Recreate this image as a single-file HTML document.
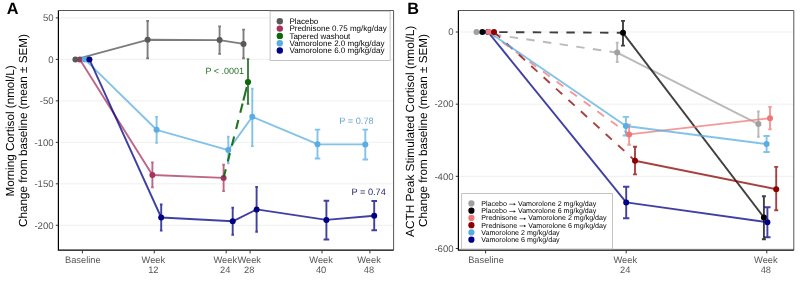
<!DOCTYPE html>
<html><head><meta charset="utf-8"><style>
html,body{margin:0;padding:0;background:#fff;width:800px;height:286px;overflow:hidden}
svg{display:block;font-family:"Liberation Sans", sans-serif;will-change:transform;text-rendering:geometricPrecision}
</style></head><body>
<svg width="800" height="286" viewBox="0 0 800 286">
<rect width="800" height="286" fill="#fff"/>
<line x1="58.4" y1="17.900000000000006" x2="393.6" y2="17.900000000000006" stroke="#ebebeb" stroke-width="0.8"/>
<line x1="58.4" y1="59.38" x2="393.6" y2="59.38" stroke="#ebebeb" stroke-width="0.8"/>
<line x1="58.4" y1="100.86" x2="393.6" y2="100.86" stroke="#ebebeb" stroke-width="0.8"/>
<line x1="58.4" y1="142.34" x2="393.6" y2="142.34" stroke="#ebebeb" stroke-width="0.8"/>
<line x1="58.4" y1="183.82" x2="393.6" y2="183.82" stroke="#ebebeb" stroke-width="0.8"/>
<line x1="58.4" y1="225.29999999999998" x2="393.6" y2="225.29999999999998" stroke="#ebebeb" stroke-width="0.8"/>
<path d="M58.4,10.5H393.6V250.2" stroke="#555" stroke-width="1" fill="none"/>
<polyline points="79.9,59.4 152.4,175 223.6,177.9" fill="none" stroke="#a8325f" stroke-width="1.9" stroke-linejoin="round" stroke-opacity="0.75"/>
<path d="M152.4,162.4V187.3M151.1,162.4H153.70000000000002M151.1,187.3H153.70000000000002" stroke="#a8325f" stroke-width="1.9" fill="none" stroke-opacity="0.75"/>
<path d="M223.6,164.7V191.1M222.29999999999998,164.7H224.9M222.29999999999998,191.1H224.9" stroke="#a8325f" stroke-width="1.9" fill="none" stroke-opacity="0.75"/>
<circle cx="79.9" cy="59.4" r="3.0" fill="#a8325f"/>
<circle cx="152.4" cy="175" r="3.0" fill="#a8325f"/>
<circle cx="223.6" cy="177.9" r="3.0" fill="#a8325f"/>
<polyline points="75.4,59.4 147.6,39.8 219.6,40.1 243.5,43.9" fill="none" stroke="#595959" stroke-width="1.9" stroke-linejoin="round" stroke-opacity="0.78"/>
<path d="M147.6,21.0V58.3M146.2,21.0H149.0M146.2,58.3H149.0" stroke="#595959" stroke-width="1.9" fill="none" stroke-opacity="0.78"/>
<path d="M219.6,26.4V53.9M218.2,26.4H221.0M218.2,53.9H221.0" stroke="#595959" stroke-width="1.9" fill="none" stroke-opacity="0.78"/>
<path d="M243.5,29.6V58.3M242.1,29.6H244.9M242.1,58.3H244.9" stroke="#595959" stroke-width="1.9" fill="none" stroke-opacity="0.78"/>
<circle cx="75.4" cy="59.4" r="3.0" fill="#595959"/>
<circle cx="147.6" cy="39.8" r="3.0" fill="#595959"/>
<circle cx="219.6" cy="40.1" r="3.0" fill="#595959"/>
<circle cx="243.5" cy="43.9" r="3.0" fill="#595959"/>
<polyline points="84.8,59.4 156.6,129.8 228.3,150.1 252.3,116.8 317.5,144.2 365.3,144.4" fill="none" stroke="#5aade2" stroke-width="1.9" stroke-linejoin="round" stroke-opacity="0.75"/>
<path d="M156.6,117V142.9M155.29999999999998,117H157.9M155.29999999999998,142.9H157.9" stroke="#5aade2" stroke-width="1.9" fill="none" stroke-opacity="0.75"/>
<path d="M228.3,136.7V163.3M227.0,136.7H229.60000000000002M227.0,163.3H229.60000000000002" stroke="#5aade2" stroke-width="1.9" fill="none" stroke-opacity="0.75"/>
<path d="M252.3,88.6V146.1M251.0,88.6H253.60000000000002M251.0,146.1H253.60000000000002" stroke="#5aade2" stroke-width="1.9" fill="none" stroke-opacity="0.75"/>
<path d="M317.5,129.6V158.5M314.7,129.6H320.3M314.7,158.5H320.3" stroke="#5aade2" stroke-width="1.9" fill="none" stroke-opacity="0.75"/>
<path d="M365.3,129.6V159.5M362.5,129.6H368.1M362.5,159.5H368.1" stroke="#5aade2" stroke-width="1.9" fill="none" stroke-opacity="0.75"/>
<circle cx="84.8" cy="59.4" r="3.0" fill="#5aade2"/>
<circle cx="156.6" cy="129.8" r="3.0" fill="#5aade2"/>
<circle cx="228.3" cy="150.1" r="3.0" fill="#5aade2"/>
<circle cx="252.3" cy="116.8" r="3.0" fill="#5aade2"/>
<circle cx="317.5" cy="144.2" r="3.0" fill="#5aade2"/>
<circle cx="365.3" cy="144.4" r="3.0" fill="#5aade2"/>
<polyline points="89.4,59.4 161.2,217.5 232.7,221.3 256.6,209.4 326.4,219.9 374.2,215.7" fill="none" stroke="#000085" stroke-width="1.9" stroke-linejoin="round" stroke-opacity="0.75"/>
<path d="M161.2,204.5V230.6M159.89999999999998,204.5H162.5M159.89999999999998,230.6H162.5" stroke="#000085" stroke-width="1.9" fill="none" stroke-opacity="0.75"/>
<path d="M232.7,207.8V234.8M231.39999999999998,207.8H234.0M231.39999999999998,234.8H234.0" stroke="#000085" stroke-width="1.9" fill="none" stroke-opacity="0.75"/>
<path d="M256.6,187V231.7M255.3,187H257.90000000000003M255.3,231.7H257.90000000000003" stroke="#000085" stroke-width="1.9" fill="none" stroke-opacity="0.75"/>
<path d="M326.4,200.8V239.5M323.59999999999997,200.8H329.2M323.59999999999997,239.5H329.2" stroke="#000085" stroke-width="1.9" fill="none" stroke-opacity="0.75"/>
<path d="M374.2,201V230.2M371.4,201H377.0M371.4,230.2H377.0" stroke="#000085" stroke-width="1.9" fill="none" stroke-opacity="0.75"/>
<circle cx="89.4" cy="59.4" r="3.0" fill="#000085"/>
<circle cx="161.2" cy="217.5" r="3.0" fill="#000085"/>
<circle cx="232.7" cy="221.3" r="3.0" fill="#000085"/>
<circle cx="256.6" cy="209.4" r="3.0" fill="#000085"/>
<circle cx="326.4" cy="219.9" r="3.0" fill="#000085"/>
<circle cx="374.2" cy="215.7" r="3.0" fill="#000085"/>
<line x1="223.6" y1="177.9" x2="248" y2="82.3" stroke="#0a6a0a" stroke-width="2.1" stroke-opacity="0.92" stroke-dasharray="0,0.4,8.5,8.0,8.8,7.7,9.3,7.8,9.3,7.5,9.6,3.0,14,100" stroke-dashoffset="0"/>
<path d="M248,59.1V103.9M246.75,59.1H249.25M246.75,103.9H249.25" stroke="#3f7c3f" stroke-width="1.9" fill="none"/>
<circle cx="248" cy="82.0" r="3.1" fill="#0a6a0a"/>
<path d="M58.4,10.5V250.2H393.6" stroke="#000" stroke-width="1.2" fill="none"/>
<line x1="55.8" y1="17.900000000000006" x2="58.4" y2="17.900000000000006" stroke="#333" stroke-width="1.0"/>
<text x="53.6" y="21.100000000000005" font-size="9.6" fill="#555" text-anchor="end" font-weight="normal">50</text>
<line x1="55.8" y1="59.38" x2="58.4" y2="59.38" stroke="#333" stroke-width="1.0"/>
<text x="53.6" y="62.580000000000005" font-size="9.6" fill="#555" text-anchor="end" font-weight="normal">0</text>
<line x1="55.8" y1="100.86" x2="58.4" y2="100.86" stroke="#333" stroke-width="1.0"/>
<text x="53.6" y="104.06" font-size="9.6" fill="#555" text-anchor="end" font-weight="normal">-50</text>
<line x1="55.8" y1="142.34" x2="58.4" y2="142.34" stroke="#333" stroke-width="1.0"/>
<text x="53.6" y="145.54" font-size="9.6" fill="#555" text-anchor="end" font-weight="normal">-100</text>
<line x1="55.8" y1="183.82" x2="58.4" y2="183.82" stroke="#333" stroke-width="1.0"/>
<text x="53.6" y="187.01999999999998" font-size="9.6" fill="#555" text-anchor="end" font-weight="normal">-150</text>
<line x1="55.8" y1="225.29999999999998" x2="58.4" y2="225.29999999999998" stroke="#333" stroke-width="1.0"/>
<text x="53.6" y="228.49999999999997" font-size="9.6" fill="#555" text-anchor="end" font-weight="normal">-200</text>
<line x1="82.4" y1="250.2" x2="82.4" y2="253.39999999999998" stroke="#333" stroke-width="1.0"/>
<text x="82.80000000000001" y="262.5" font-size="9.3" fill="#555" text-anchor="middle" font-weight="normal">Baseline</text>
<line x1="154.28" y1="250.2" x2="154.28" y2="253.39999999999998" stroke="#333" stroke-width="1.0"/>
<text x="153.38" y="262.5" font-size="9.3" fill="#555" text-anchor="middle" font-weight="normal">Week</text>
<text x="153.38" y="272.8" font-size="9.3" fill="#555" text-anchor="middle" font-weight="normal">12</text>
<line x1="226.16" y1="250.2" x2="226.16" y2="253.39999999999998" stroke="#333" stroke-width="1.0"/>
<text x="225.26" y="262.5" font-size="9.3" fill="#555" text-anchor="middle" font-weight="normal">Week</text>
<text x="225.26" y="272.8" font-size="9.3" fill="#555" text-anchor="middle" font-weight="normal">24</text>
<line x1="250.12" y1="250.2" x2="250.12" y2="253.39999999999998" stroke="#333" stroke-width="1.0"/>
<text x="249.22" y="262.5" font-size="9.3" fill="#555" text-anchor="middle" font-weight="normal">Week</text>
<text x="249.22" y="272.8" font-size="9.3" fill="#555" text-anchor="middle" font-weight="normal">28</text>
<line x1="322.0" y1="250.2" x2="322.0" y2="253.39999999999998" stroke="#333" stroke-width="1.0"/>
<text x="321.1" y="262.5" font-size="9.3" fill="#555" text-anchor="middle" font-weight="normal">Week</text>
<text x="321.1" y="272.8" font-size="9.3" fill="#555" text-anchor="middle" font-weight="normal">40</text>
<line x1="369.91999999999996" y1="250.2" x2="369.91999999999996" y2="253.39999999999998" stroke="#333" stroke-width="1.0"/>
<text x="369.02" y="262.5" font-size="9.3" fill="#555" text-anchor="middle" font-weight="normal">Week</text>
<text x="369.02" y="272.8" font-size="9.3" fill="#555" text-anchor="middle" font-weight="normal">48</text>
<g transform="translate(13.5,130.5) rotate(-90)"><text x="-0.5" y="0" font-size="11.7" text-anchor="middle">Morning Cortisol (nmol/L)</text><text x="0" y="13" font-size="11.7" text-anchor="middle">Change from baseline (mean ± SEM)</text></g>
<text x="6.8" y="14.4" font-size="16.3" fill="#000" text-anchor="start" font-weight="bold">A</text>
<text x="205.5" y="74" font-size="9" fill="#276e27" text-anchor="start" font-weight="normal">P &lt; .0001</text>
<text x="339.3" y="123.6" font-size="9.2" fill="#6aa5cf" text-anchor="start" font-weight="normal">P = 0.78</text>
<text x="351.5" y="194.5" font-size="9.2" fill="#24246a" text-anchor="start" font-weight="normal">P = 0.74</text>
<rect x="270.1" y="11.2" width="120.0" height="49.2" fill="#fff" stroke="#b4b4b4" stroke-width="0.8"/>
<circle cx="279.8" cy="21.3" r="3.2" fill="#595959"/>
<text x="289.4" y="24.1" font-size="8" fill="#000" text-anchor="start" font-weight="normal">Placebo</text>
<circle cx="279.8" cy="28.6" r="3.2" fill="#a8325f"/>
<text x="289.4" y="31.400000000000002" font-size="8" fill="#000" text-anchor="start" font-weight="normal">Prednisone 0.75 mg/kg/day</text>
<circle cx="279.8" cy="35.9" r="3.2" fill="#0a6a0a"/>
<text x="289.4" y="38.699999999999996" font-size="8" fill="#000" text-anchor="start" font-weight="normal">Tapered washout</text>
<circle cx="279.8" cy="43.2" r="3.2" fill="#5aade2"/>
<text x="289.4" y="46.0" font-size="8" fill="#000" text-anchor="start" font-weight="normal">Vamorolone 2.0 mg/kg/day</text>
<circle cx="279.8" cy="50.5" r="3.2" fill="#000085"/>
<text x="289.4" y="53.3" font-size="8" fill="#000" text-anchor="start" font-weight="normal">Vamorolone 6.0 mg/kg/day</text>
<line x1="458.4" y1="32.0" x2="793.8" y2="32.0" stroke="#ebebeb" stroke-width="0.8"/>
<line x1="458.4" y1="104.16" x2="793.8" y2="104.16" stroke="#ebebeb" stroke-width="0.8"/>
<line x1="458.4" y1="176.32" x2="793.8" y2="176.32" stroke="#ebebeb" stroke-width="0.8"/>
<line x1="458.4" y1="248.48000000000002" x2="793.8" y2="248.48000000000002" stroke="#ebebeb" stroke-width="0.8"/>
<path d="M458.4,10.5H793.8V250.2" stroke="#555" stroke-width="1" fill="none"/>
<line x1="476.5" y1="32" x2="617.2" y2="52.6" stroke="#a0a0a0" stroke-width="1.9" stroke-opacity="0.72" stroke-dasharray="8.4,8.4" stroke-dashoffset="0"/>
<line x1="617.2" y1="52.6" x2="758.4" y2="124.1" stroke="#a0a0a0" stroke-width="1.9" stroke-opacity="0.72"/>
<path d="M617.2,42.7V62M615.8000000000001,42.7H618.6M615.8000000000001,62H618.6" stroke="#a0a0a0" stroke-width="1.9" fill="none" stroke-opacity="0.72"/>
<path d="M758.4,111.5V136.7M757.0,111.5H759.8M757.0,136.7H759.8" stroke="#a0a0a0" stroke-width="1.9" fill="none" stroke-opacity="0.72"/>
<line x1="482.4" y1="32" x2="623" y2="32.8" stroke="#000000" stroke-width="1.9" stroke-opacity="0.75" stroke-dasharray="8.4,8.4" stroke-dashoffset="0"/>
<line x1="623" y1="32.8" x2="763.9" y2="217.5" stroke="#000000" stroke-width="1.9" stroke-opacity="0.75"/>
<path d="M623,20.9V45.6M621.0,20.9H625.0M621.0,45.6H625.0" stroke="#000000" stroke-width="1.9" fill="none" stroke-opacity="0.75"/>
<path d="M763.9,196.2V239.2M761.9,196.2H765.9M761.9,239.2H765.9" stroke="#000000" stroke-width="1.9" fill="none" stroke-opacity="0.75"/>
<line x1="488.7" y1="32" x2="629.1" y2="134.4" stroke="#f07575" stroke-width="1.9" stroke-opacity="0.75" stroke-dasharray="8.4,8.4" stroke-dashoffset="0"/>
<line x1="629.1" y1="134.4" x2="770" y2="118.2" stroke="#f07575" stroke-width="1.9" stroke-opacity="0.75"/>
<path d="M629.1,124.6V144.8M627.35,124.6H630.85M627.35,144.8H630.85" stroke="#f07575" stroke-width="1.9" fill="none" stroke-opacity="0.75"/>
<path d="M770,106.9V129.4M768.25,106.9H771.75M768.25,129.4H771.75" stroke="#f07575" stroke-width="1.9" fill="none" stroke-opacity="0.75"/>
<line x1="494" y1="32" x2="635" y2="160.7" stroke="#8b0000" stroke-width="1.9" stroke-opacity="0.75" stroke-dasharray="8.4,8.4" stroke-dashoffset="0"/>
<line x1="635" y1="160.7" x2="776.2" y2="189.2" stroke="#8b0000" stroke-width="1.9" stroke-opacity="0.75"/>
<path d="M635,146.8V174.4M633.0,146.8H637.0M633.0,174.4H637.0" stroke="#8b0000" stroke-width="1.9" fill="none" stroke-opacity="0.75"/>
<path d="M776.2,166.9V210.3M774.2,166.9H778.2M774.2,210.3H778.2" stroke="#8b0000" stroke-width="1.9" fill="none" stroke-opacity="0.75"/>
<line x1="488.7" y1="32" x2="625.9" y2="126" stroke="#5aade2" stroke-width="1.9" stroke-opacity="0.75"/>
<line x1="625.9" y1="126" x2="766.6" y2="144" stroke="#5aade2" stroke-width="1.9" stroke-opacity="0.75"/>
<path d="M625.9,116.9V135.5M622.75,116.9H629.05M622.75,135.5H629.05" stroke="#5aade2" stroke-width="1.9" fill="none" stroke-opacity="0.75"/>
<path d="M766.6,136V152M763.45,136H769.75M763.45,152H769.75" stroke="#5aade2" stroke-width="1.9" fill="none" stroke-opacity="0.75"/>
<line x1="488" y1="32" x2="626.2" y2="202.4" stroke="#000085" stroke-width="1.9" stroke-opacity="0.75"/>
<line x1="626.2" y1="202.4" x2="767.4" y2="222.3" stroke="#000085" stroke-width="1.9" stroke-opacity="0.75"/>
<path d="M626.2,186.8V218.3M623.0500000000001,186.8H629.35M623.0500000000001,218.3H629.35" stroke="#000085" stroke-width="1.9" fill="none" stroke-opacity="0.75"/>
<path d="M767.4,207.2V237.2M764.25,207.2H770.55M764.25,237.2H770.55" stroke="#000085" stroke-width="1.9" fill="none" stroke-opacity="0.75"/>
<circle cx="488.7" cy="32" r="3.0" fill="#5aade2"/>
<circle cx="488" cy="32" r="3.0" fill="#000085"/>
<circle cx="476.5" cy="32" r="3.0" fill="#a0a0a0"/>
<circle cx="482.4" cy="32" r="3.0" fill="#000000"/>
<circle cx="488.7" cy="32" r="3.0" fill="#f07575"/>
<circle cx="494" cy="32" r="3.0" fill="#8b0000"/>
<circle cx="617.2" cy="52.6" r="3.0" fill="#a0a0a0"/>
<circle cx="758.4" cy="124.1" r="3.0" fill="#a0a0a0"/>
<circle cx="623" cy="32.8" r="3.0" fill="#000000"/>
<circle cx="763.9" cy="217.5" r="3.0" fill="#000000"/>
<circle cx="629.1" cy="134.4" r="3.0" fill="#f07575"/>
<circle cx="770" cy="118.2" r="3.0" fill="#f07575"/>
<circle cx="635" cy="160.7" r="3.0" fill="#8b0000"/>
<circle cx="776.2" cy="189.2" r="3.0" fill="#8b0000"/>
<circle cx="625.9" cy="126" r="3.0" fill="#5aade2"/>
<circle cx="766.6" cy="144" r="3.0" fill="#5aade2"/>
<circle cx="626.2" cy="202.4" r="3.0" fill="#000085"/>
<circle cx="767.4" cy="222.3" r="3.0" fill="#000085"/>
<path d="M458.4,10.5V250.2H793.8" stroke="#000" stroke-width="1.2" fill="none"/>
<line x1="455.79999999999995" y1="32.0" x2="458.4" y2="32.0" stroke="#333" stroke-width="1.0"/>
<text x="453.59999999999997" y="35.2" font-size="9.6" fill="#555" text-anchor="end" font-weight="normal">0</text>
<line x1="455.79999999999995" y1="104.16" x2="458.4" y2="104.16" stroke="#333" stroke-width="1.0"/>
<text x="453.59999999999997" y="107.36" font-size="9.6" fill="#555" text-anchor="end" font-weight="normal">-200</text>
<line x1="455.79999999999995" y1="176.32" x2="458.4" y2="176.32" stroke="#333" stroke-width="1.0"/>
<text x="453.59999999999997" y="179.51999999999998" font-size="9.6" fill="#555" text-anchor="end" font-weight="normal">-400</text>
<line x1="455.79999999999995" y1="248.48000000000002" x2="458.4" y2="248.48000000000002" stroke="#333" stroke-width="1.0"/>
<text x="453.59999999999997" y="251.68" font-size="9.6" fill="#555" text-anchor="end" font-weight="normal">-600</text>
<line x1="485.6" y1="250.2" x2="485.6" y2="253.39999999999998" stroke="#333" stroke-width="1.0"/>
<text x="486.0" y="262.5" font-size="9.3" fill="#555" text-anchor="middle" font-weight="normal">Baseline</text>
<line x1="626.192" y1="250.2" x2="626.192" y2="253.39999999999998" stroke="#333" stroke-width="1.0"/>
<text x="625.292" y="262.5" font-size="9.3" fill="#555" text-anchor="middle" font-weight="normal">Week</text>
<text x="625.292" y="272.8" font-size="9.3" fill="#555" text-anchor="middle" font-weight="normal">24</text>
<line x1="766.784" y1="250.2" x2="766.784" y2="253.39999999999998" stroke="#333" stroke-width="1.0"/>
<text x="765.884" y="262.5" font-size="9.3" fill="#555" text-anchor="middle" font-weight="normal">Week</text>
<text x="765.884" y="272.8" font-size="9.3" fill="#555" text-anchor="middle" font-weight="normal">48</text>
<g transform="translate(413.5,130.5) rotate(-90)"><text x="-0.9" y="0" font-size="11.8" text-anchor="middle">ACTH Peak Stimulated Cortisol (nmol/L)</text><text x="0" y="13" font-size="11.7" text-anchor="middle">Change from baseline (mean ± SEM)</text></g>
<text x="407.3" y="14.4" font-size="16.3" fill="#000" text-anchor="start" font-weight="bold">B</text>
<rect x="461.7" y="193.6" width="150.9" height="55.4" fill="#fff" stroke="#b4b4b4" stroke-width="0.8"/>
<circle cx="471.4" cy="203.4" r="3.1" fill="#a0a0a0"/>
<text x="481.3" y="205.9" font-size="7.1" fill="#000" text-anchor="start" font-weight="normal">Placebo   Vamorolone 2 mg/kg/day</text>
<path d="M509.23,204.20H514.43" stroke="#333" stroke-width="0.7"/><path d="M513.83,202.90L515.83,204.20L513.83,205.50Z" fill="#222"/>
<circle cx="471.4" cy="210.66" r="3.1" fill="#000000"/>
<text x="481.3" y="213.16" font-size="7.1" fill="#000" text-anchor="start" font-weight="normal">Placebo   Vamorolone 6 mg/kg/day</text>
<path d="M509.23,211.46H514.43" stroke="#333" stroke-width="0.7"/><path d="M513.83,210.16L515.83,211.46L513.83,212.76Z" fill="#222"/>
<circle cx="471.4" cy="217.92000000000002" r="3.1" fill="#f07575"/>
<text x="481.3" y="220.42000000000002" font-size="7.1" fill="#000" text-anchor="start" font-weight="normal">Prednisone   Vamorolone 2 mg/kg/day</text>
<path d="M519.49,218.72H524.69" stroke="#333" stroke-width="0.7"/><path d="M524.09,217.42L526.09,218.72L524.09,220.02Z" fill="#222"/>
<circle cx="471.4" cy="225.18" r="3.1" fill="#8b0000"/>
<text x="481.3" y="227.68" font-size="7.1" fill="#000" text-anchor="start" font-weight="normal">Prednisone   Vamorolone 6 mg/kg/day</text>
<path d="M519.49,225.98H524.69" stroke="#333" stroke-width="0.7"/><path d="M524.09,224.68L526.09,225.98L524.09,227.28Z" fill="#222"/>
<circle cx="471.4" cy="232.44" r="3.1" fill="#5aade2"/>
<text x="481.3" y="234.94" font-size="7.1" fill="#000" text-anchor="start" font-weight="normal">Vamorolone 2 mg/kg/day</text>
<circle cx="471.4" cy="239.7" r="3.1" fill="#000085"/>
<text x="481.3" y="242.2" font-size="7.1" fill="#000" text-anchor="start" font-weight="normal">Vamorolone 6 mg/kg/day</text>
</svg></body></html>
